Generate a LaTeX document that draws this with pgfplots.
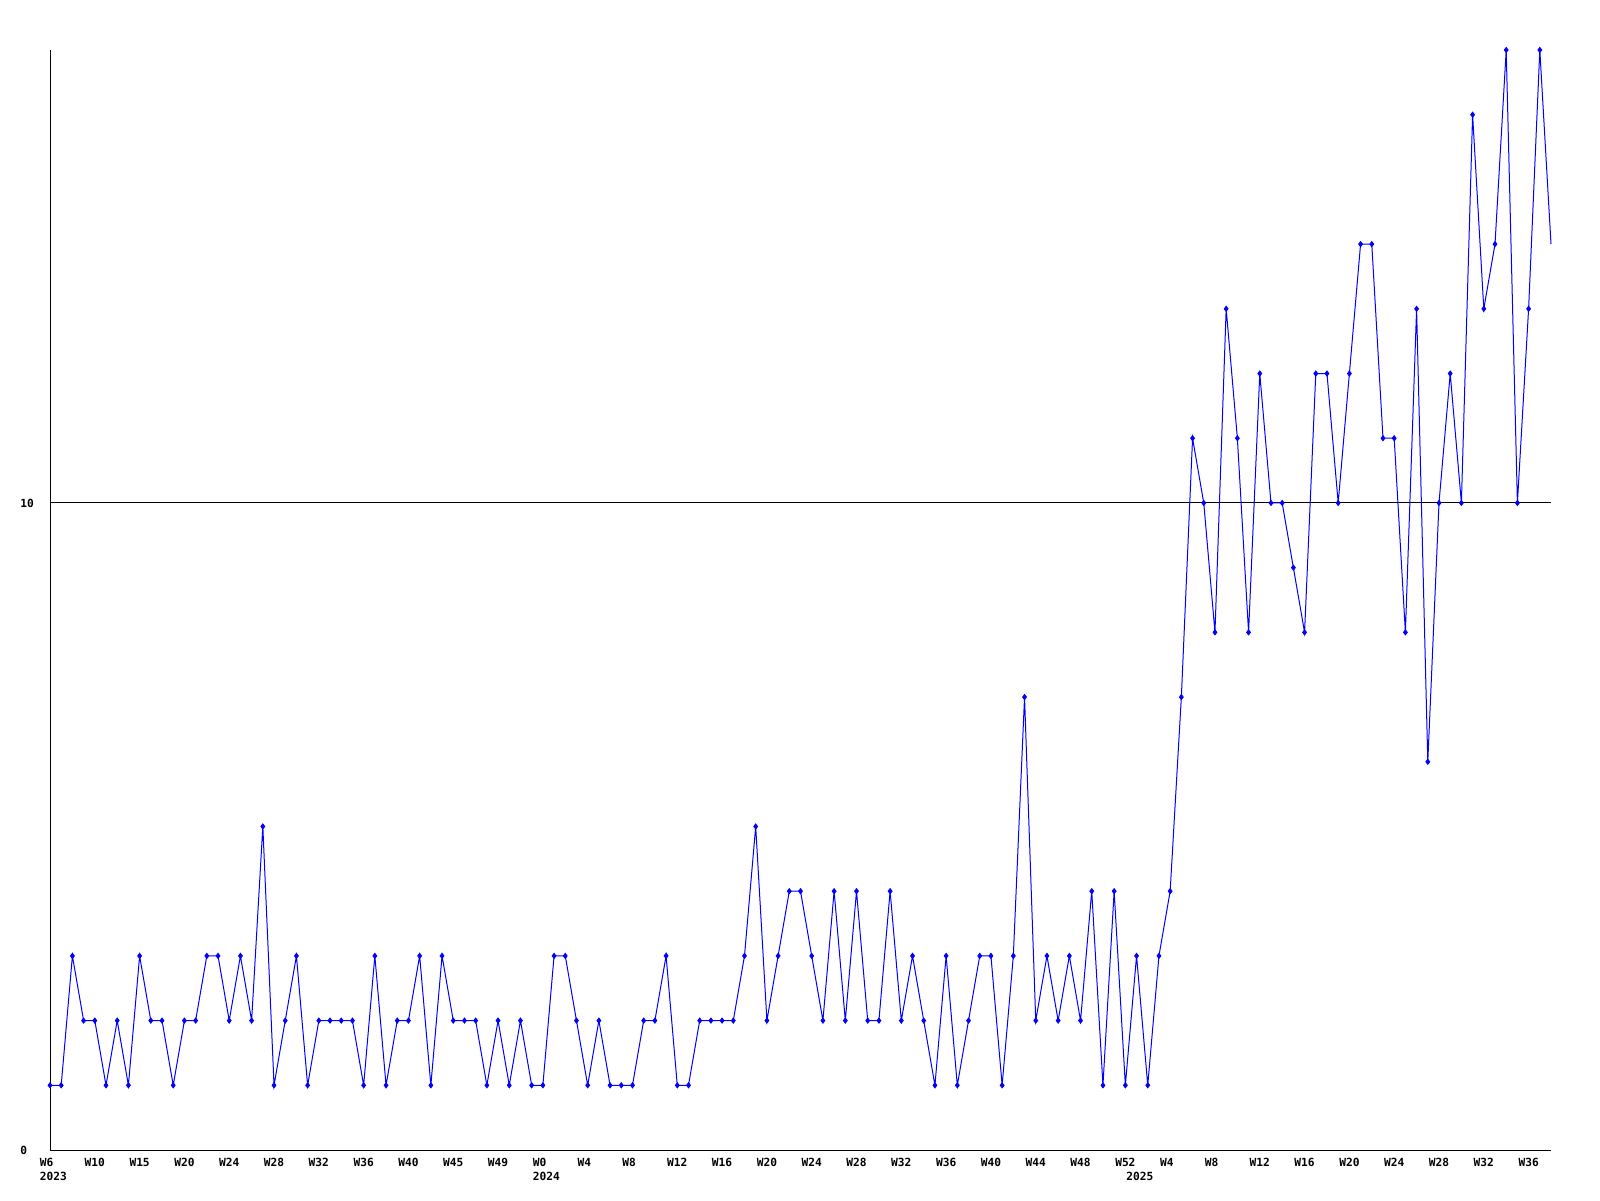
\documentclass[border=0pt]{standalone}
\usepackage{fontspec}
\newfontfamily\pixfont{DejaVu Sans Mono}
\usepackage{pgfplots}
\pgfplotsset{compat=1.18}
\usepackage{pgfplotstable}
\definecolor{serblue}{RGB}{0,0,255}

% weekly counts, index 0 = W6 2023
\pgfplotstableread{
x y
0 1
1 1
2 3
3 2
4 2
5 1
6 2
7 1
8 3
9 2
10 2
11 1
12 2
13 2
14 3
15 3
16 2
17 3
18 2
19 5
20 1
21 2
22 3
23 1
24 2
25 2
26 2
27 2
28 1
29 3
30 1
31 2
32 2
33 3
34 1
35 3
36 2
37 2
38 2
39 1
40 2
41 1
42 2
43 1
44 1
45 3
46 3
47 2
48 1
49 2
50 1
51 1
52 1
53 2
54 2
55 3
56 1
57 1
58 2
59 2
60 2
61 2
62 3
63 5
64 2
65 3
66 4
67 4
68 3
69 2
70 4
71 2
72 4
73 2
74 2
75 4
76 2
77 3
78 2
79 1
80 3
81 1
82 2
83 3
84 3
85 1
86 3
87 7
88 2
89 3
90 2
91 3
92 2
93 4
94 1
95 4
96 1
97 3
98 1
99 3
100 4
101 7
102 11
103 10
104 8
105 13
106 11
107 8
108 12
109 10
110 10
111 9
112 8
113 12
114 12
115 10
116 12
117 14
118 14
119 11
120 11
121 8
122 13
123 6
124 10
125 12
126 10
127 16
128 13
129 14
130 17
131 10
132 13
133 17
134 14
}\weekly

\begin{document}
\begin{tikzpicture}
\useasboundingbox (0,0) rectangle (800pt,600pt);
\begin{axis}[
  at={(25pt,25pt)}, anchor=south west,
  scale only axis, width=750.5pt, height=550pt,
  xmin=0, xmax=134, ymin=0, ymax=17,
  axis lines=left,
  axis line style={-, black, line width=0.5pt},
  clip=false,
  ytick={0,10}, yticklabels={0,10},
  ymajorgrids, grid style={black, line width=0.5pt},
  major tick length=0pt,
  xtick={0,4,...,132},
  xticklabels={W6,W10,W15,W20,W24,W28,W32,W36,W40,W45,W49,W0,W4,W8,W12,W16,W20,W24,W28,W32,W36,W40,W44,W48,W52,W4,W8,W12,W16,W20,W24,W28,W32,W36},
  tick label style={font=\pixfont\bfseries\fontsize{5.6}{7}\selectfont, inner sep=0pt},
  yticklabel style={anchor=west, xshift=-15pt},
  xticklabel style={anchor=base west, xshift=-5.25pt, yshift=-8.2pt},
  extra x ticks={0,44,97},
  extra x tick labels={2023,2024,2025},
  extra x tick style={xticklabel style={yshift=-7.2pt}},
]
\addplot[serblue, line width=0.5pt, no marks] table[x=x, y=y] {\weekly};
\addplot[serblue, only marks, mark=diamond*, mark size=1.3pt,
  skip coords between index={134}{135}] table[x=x, y=y] {\weekly};
\end{axis}
\end{tikzpicture}
\end{document}
